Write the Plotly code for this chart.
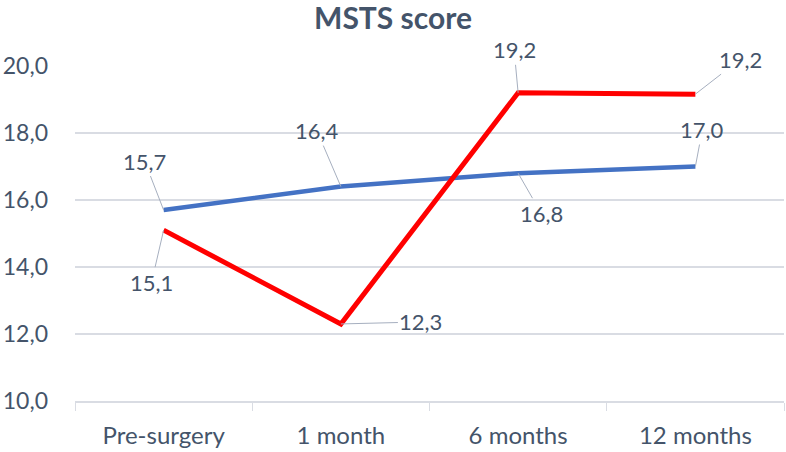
import plotly.graph_objects as go

categories = ["Pre-surgery", "1 month", "6 months", "12 months"]
series_a = [15.7, 16.4, 16.8, 17.0]   # blue
series_b = [15.1, 12.3, 19.2, 19.16]  # red
y_ticks = [10, 12, 14, 16, 18, 20]

BLUE = "#4472C4"
RED = "#FF0000"
TXT = "#44546A"
GRID = "#D9DCE3"
FONT = "Lato"

# label offsets (pixels) relative to each point: style only
off_a = [(-19, -49), (-24, -56), (23, 40), (7, -37)]
off_b = [(-12, 52), (80, -2), (-4, -43), (45, -35)]

def fmt(v):
    return f"{v:.1f}".replace(".", ",")

fig = go.Figure()
fig.add_trace(go.Scatter(x=categories, y=series_a, mode="lines",
                         line=dict(color=BLUE, width=4.5), showlegend=False))
fig.add_trace(go.Scatter(x=categories, y=series_b, mode="lines",
                         line=dict(color=RED, width=5), showlegend=False))

ann = []
for vals, offs in ((series_a, off_a), (series_b, off_b)):
    for c, v, (dx, dy) in zip(categories, vals, offs):
        ann.append(dict(x=c, y=v, xref="x", yref="y", text=fmt(v),
                        showarrow=True, arrowhead=0, arrowwidth=1,
                        arrowcolor="#A6AFBF", ax=dx, ay=dy, standoff=0,
                        font=dict(family=FONT, size=22, color=TXT)))

fig.update_layout(
    width=786, height=452,
    margin=dict(l=75, r=2, t=66, b=51),
    paper_bgcolor="white", plot_bgcolor="white",
    separators=", ",
    title=dict(text="<b>MSTS score</b>", x=0.5, xanchor="center",
               y=1 - 18 / 452, yanchor="middle",
               font=dict(family=FONT, size=30, color=TXT)),
    annotations=ann,
    xaxis=dict(type="category", showgrid=False, showline=True,
               linecolor=GRID, linewidth=1.5, ticks="outside",
               tickson="boundaries", ticklen=8, tickcolor=GRID,
               tickfont=dict(family=FONT, size=24, color=TXT),
               ticklabelstandoff=12, range=[-0.5, 3.5]),
    yaxis=dict(range=[10, 20], tickvals=y_ticks, tickformat=".1f",
               showgrid=True, gridcolor=GRID, gridwidth=1.5,
               zeroline=False, showline=False, ticks="",
               tickfont=dict(family=FONT, size=23, color=TXT),
               ticklabelstandoff=26),
)

fig.write_html("out.html", config={"displayModeBar": False},
               post_script="document.body.style.margin='0';document.body.style.padding='0';")
